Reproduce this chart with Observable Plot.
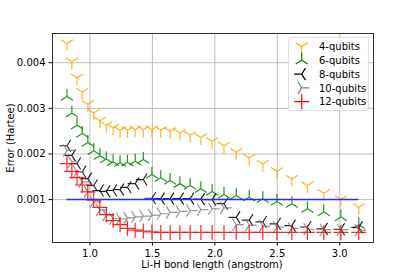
<!DOCTYPE html>
<html><head><meta charset="utf-8">
<script src="https://cdn.jsdelivr.net/npm/d3@7"></script>
<script src="https://cdn.jsdelivr.net/npm/@observablehq/plot@0.6"></script>
<style>
body{margin:0;background:#fff;font-family:"DejaVu Sans",sans-serif;}
#wrap{position:relative;width:415px;height:277px;}
.lbl{position:absolute;font-size:10px;color:#000;white-space:nowrap;}
#legend{position:absolute;left:288px;top:37px;}
</style></head><body><div id="wrap"></div>
<script>
const bondLength = [0.816, 0.855, 0.896, 0.938, 0.983, 1.030, 1.079, 1.131, 1.185, 1.241, 1.300, 1.362, 1.427, 1.496, 1.567, 1.642, 1.720, 1.802, 1.888, 1.978, 2.073, 2.171, 2.275, 2.384, 2.497, 2.616, 2.741, 2.872, 3.009, 3.152];
const err4 = [0.00442,0.00402,0.00367,0.00336,0.00309,0.00290,0.00273,0.00263,0.00257,0.00252,0.00252,0.00253,0.00253,0.00253,0.00252,0.00250,0.00246,0.00241,0.00236,0.00228,0.00218,0.00204,0.00191,0.00178,0.00162,0.00145,0.00131,0.00114,0.00101,0.00083];
const err6 = [0.00326,0.00289,0.00263,0.00245,0.00225,0.00207,0.00196,0.00189,0.00183,0.00181,0.00182,0.00184,0.00188,0.00155,0.00148,0.00142,0.00135,0.00131,0.00124,0.00118,0.00111,0.00109,0.00105,0.00102,0.00096,0.00091,0.00080,0.00073,0.00062,0.00045];
const err8 = [0.00218,0.00197,0.00179,0.00161,0.00146,0.00131,0.00120,0.00118,0.00120,0.00122,0.00127,0.00135,0.00144,0.00103,0.00102,0.00102,0.00102,0.00102,0.00101,0.00100,0.00091,0.00061,0.00055,0.00051,0.00047,0.00043,0.00040,0.00036,0.00035,0.00039];
const err10 = [0.00208,0.00183,0.00161,0.00139,0.00117,0.00095,0.00077,0.00066,0.00058,0.00058,0.00060,0.00062,0.00064,0.00066,0.00069,0.00072,0.00074,0.00076,0.00078,0.00080,0.00082,0.00045,0.00044,0.00042,0.00040,0.00037,0.00035,0.00034,0.00034,0.00033];
const err12 = [0.00179,0.00162,0.00148,0.00132,0.00117,0.00099,0.00083,0.00067,0.00054,0.00045,0.00037,0.00033,0.00031,0.00029,0.00028,0.00028,0.00028,0.00028,0.00028,0.00028,0.00028,0.00028,0.00028,0.00028,0.00028,0.00028,0.00028,0.00028,0.00028,0.00028];
const seriesNames = ["4-qubits","6-qubits","8-qubits","10-qubits","12-qubits"];
const seriesColors = ["#ffa500","#008000","#000000","#808080","#ff0000"];
const chemAccuracy = 0.001;
const xTicks = [1.0, 1.5, 2.0, 2.5, 3.0];
const yTicks = [0.001, 0.002, 0.003, 0.004];
const xLabel = "Li-H bond length (angstrom)";
const yLabel = "Error (Hartee)";

const armVecs = {
  triDown: [[0,1],[0.8,-0.5],[-0.8,-0.5]],
  triUp: [[0,-1],[0.8,0.5],[-0.8,0.5]],
  triLeft: [[-1,0],[0.5,-0.8],[0.5,0.8]],
  triRight: [[1,0],[-0.5,-0.8],[-0.5,0.8]],
  plus: [[1,0],[-1,0],[0,1],[0,-1]]
};
const symKeys = ["triDown","triUp","triLeft","triRight","plus"];
function armSymbol(vecs){
  return {draw(ctx, size){
    const r = Math.sqrt(size/Math.PI);
    for (const [dx,dy] of vecs){ ctx.moveTo(0,0); ctx.lineTo(dx*r, dy*r); }
  }};
}
const allSeries = [err4, err6, err8, err10, err12];
const R = 7.5;

const dotMarks = allSeries.map((ys, k) => Plot.dot(
  bondLength.map((x, i) => ({x, y: ys[i]})),
  {x: "x", y: "y", r: R, symbol: armSymbol(armVecs[symKeys[k]]), fill: "none",
   stroke: seriesColors[k], strokeWidth: 1.2, strokeOpacity: 0.85}
));

const chart = Plot.plot({
  width: 415, height: 277,
  marginLeft: 52, marginRight: 42, marginTop: 33, marginBottom: 35,
  style: {fontFamily: "DejaVu Sans, sans-serif", fontSize: "10px", background: "white", color: "black"},
  x: {domain: [0.70, 3.27]},
  y: {domain: [0.00006, 0.00464]},
  marks: [
    Plot.gridX(xTicks, {stroke: "#b0b0b0", strokeOpacity: 1, strokeWidth: 0.8}),
    Plot.gridY(yTicks, {stroke: "#b0b0b0", strokeOpacity: 1, strokeWidth: 0.8}),
    Plot.axisX(xTicks, {tickSize: 3.5, tickPadding: 3.5, tickFormat: d => d.toFixed(1), label: null, fontSize: 10}),
    Plot.axisY(yTicks, {tickSize: 3.5, tickPadding: 3.5, tickFormat: d => d.toFixed(3), label: null, fontSize: 10}),
    ...dotMarks,
    Plot.ruleY([chemAccuracy], {x1: bondLength[0], x2: bondLength[bondLength.length-1], stroke: "#2a2aff", strokeWidth: 1.5}),
    Plot.frame({stroke: "black", strokeWidth: 0.8})
  ]
});
const wrap = document.getElementById("wrap");
wrap.appendChild(chart);

const xl = document.createElement("div");
xl.className = "lbl"; xl.textContent = xLabel;
xl.style.left = "212px"; xl.style.top = "259px"; xl.style.transform = "translateX(-50%)";
wrap.appendChild(xl);
const yl = document.createElement("div");
yl.className = "lbl"; yl.textContent = yLabel;
yl.style.left = "10px"; yl.style.top = "138px"; yl.style.transform = "translate(-50%,-50%) rotate(-90deg)";
wrap.appendChild(yl);

// legend
const ns = "http://www.w3.org/2000/svg";
const lg = document.createElementNS(ns, "svg");
lg.setAttribute("id","legend"); lg.setAttribute("width", 81); lg.setAttribute("height", 74);
const rect = document.createElementNS(ns, "rect");
rect.setAttribute("x",0.5); rect.setAttribute("y",0.5); rect.setAttribute("width",80); rect.setAttribute("height",73);
rect.setAttribute("rx",2.5); rect.setAttribute("fill","rgba(255,255,255,0.8)"); rect.setAttribute("stroke","#d6d6d6"); rect.setAttribute("stroke-width",0.8);
lg.appendChild(rect);
seriesNames.forEach((name, k) => {
  const cy = 9.5 + k*13.8, cx = 13.7;
  const p = document.createElementNS(ns, "path");
  p.setAttribute("d", armVecs[symKeys[k]].map(([dx,dy]) => `M${cx},${cy}L${cx+dx*R},${cy+dy*R}`).join(""));
  p.setAttribute("stroke", seriesColors[k]); p.setAttribute("stroke-width", 1.2); p.setAttribute("fill","none");
  lg.appendChild(p);
  const t = document.createElementNS(ns, "text");
  t.setAttribute("x", 31); t.setAttribute("y", cy + 3.6);
  t.setAttribute("font-family","DejaVu Sans, sans-serif"); t.setAttribute("font-size", 10);
  t.textContent = name;
  lg.appendChild(t);
});
wrap.appendChild(lg);
</script></body></html>
